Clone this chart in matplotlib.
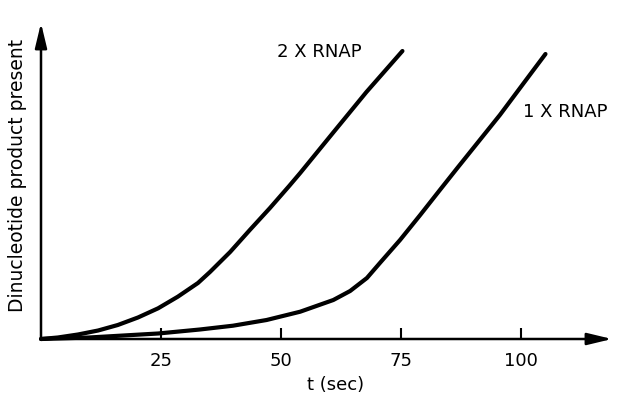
import matplotlib
matplotlib.use("Agg")
import matplotlib.pyplot as plt

# values (y in arbitrary units)
t_2x = [0, 3.5, 7.7, 11.9, 16, 20.2, 24.4, 28.5, 32.7, 35.2, 39.4, 43.5, 47.7, 51.7, 54, 60.8, 67.8, 75.3]
p_2x = [0, 1.5, 4.5, 8.5, 14, 21.5, 30.7, 42.3, 56, 67, 87, 109, 131, 153, 166, 206, 247, 288]

t_1x = [0, 10, 24.4, 33.1, 40, 47, 54, 60.9, 64.4, 67.9, 70.6, 74.8, 79, 83.1, 86.9, 95.6, 102.6, 105.1]
p_1x = [0, 1.5, 5.5, 9.5, 13.3, 19, 27.3, 39, 48, 61, 76, 99, 124, 149, 172, 224, 269, 285]

xticks = [25, 50, 75, 100]
labels = ["2 X RNAP", "1 X RNAP"]

plt.rcParams["font.family"] = ["DejaVu Sans"]

fig = plt.figure(figsize=(6.22, 4.01), dpi=100)
ax = fig.add_axes([41 / 622, 62 / 401, 571 / 622, 316 / 401])

ax.plot(t_2x, p_2x, color="black", lw=3, solid_capstyle="round",
        solid_joinstyle="round", clip_on=False)
ax.plot(t_1x, p_1x, color="black", lw=3, solid_capstyle="round",
        solid_joinstyle="round", clip_on=False)

ax.set_xlim(0, 571 / 4.8)
ax.set_ylim(0, 316)

for s in ax.spines.values():
    s.set_visible(False)

# axes drawn as arrows
arrow = dict(arrowstyle="-|>,head_length=15,head_width=3.6", mutation_scale=1,
             lw=1.8, color="black", shrinkA=0, shrinkB=0)
ax.annotate("", xy=(1, 0), xytext=(0, 0), xycoords="axes fraction", arrowprops=arrow)
ax.annotate("", xy=(0, 1), xytext=(0, 0), xycoords="axes fraction", arrowprops=arrow)

ax.set_xticks(xticks)
ax.set_xticklabels([str(v) for v in xticks], fontsize=13)
ax.tick_params(axis="x", direction="in", length=8, width=1.5, pad=9)
ax.set_yticks([])

ax.text(57.9, 287, labels[0], fontsize=13, ha="center", va="center")
ax.text(109.3, 227, labels[1], fontsize=13, ha="center", va="center")

fig.text(18 / 622, 1 - 175 / 401, "Dinucleotide product present", fontsize=13.5,
         rotation=90, ha="center", va="center")
fig.text(336 / 622, 1 - 385 / 401, "t (sec)", fontsize=13, ha="center", va="center")

fig.savefig("out.png", dpi=100)
